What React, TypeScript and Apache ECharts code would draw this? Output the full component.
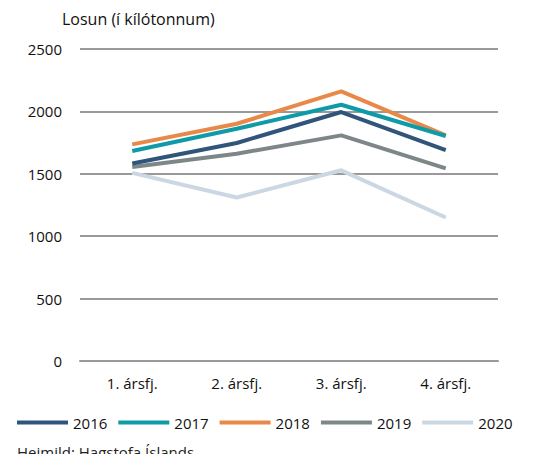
import React, { useEffect, useRef } from "react";
import * as echarts from "echarts";

const categories = ["1. ársfj.", "2. ársfj.", "3. ársfj.", "4. ársfj."];
const years = ["2016", "2017", "2018", "2019", "2020"];
const s2016 = [1582, 1747, 1995, 1690];
const s2017 = [1683, 1861, 2053, 1803];
const s2018 = [1736, 1901, 2160, 1808];
const s2019 = [1555, 1661, 1808, 1543];
const s2020 = [1507, 1310, 1528, 1150];
const colors = ["#30547a", "#0f9aa8", "#e8894a", "#7d8787", "#cbd7e3"];

const FONT = "'Open Sans', sans-serif";
const FS = 15;

export default function App() {
  const ref = useRef<HTMLDivElement>(null);
  useEffect(() => {
    const chart = echarts.init(ref.current!, undefined, { renderer: "svg" });
    const data = [s2016, s2017, s2018, s2019, s2020];
    chart.setOption({
      animation: false,
      textStyle: { fontFamily: FONT },
      title: [
        {
          text: "Losun (í kílótonnum)",
          left: 62,
          top: 11,
          padding: 0,
          textStyle: { fontSize: 16, fontWeight: "normal", color: "#111", fontFamily: FONT },
        },
        {
          text: "Heimild: Hagstofa Íslands",
          left: 17,
          top: 443,
          padding: 0,
          textStyle: {
            fontSize: 15,
            lineHeight: 17,
            fontWeight: "normal",
            color: "#222",
            fontFamily: FONT,
          },
        },
      ],
      legend: {
        left: 17,
        top: 415,
        padding: 0,
        itemWidth: 51,
        itemHeight: 4,
        itemGap: 11,
        icon: "rect",
        textStyle: { fontSize: FS, color: "#111", fontFamily: FONT, padding: [0, 0, 0, 0] },
        data: years,
      },
      grid: { left: 80, right: 39, top: 49, bottom: 101 },
      xAxis: {
        type: "category",
        data: categories,
        boundaryGap: true,
        axisLine: { show: true, lineStyle: { color: "#999", width: 2 } },
        axisTick: { show: false },
        axisLabel: { fontSize: FS, color: "#111", margin: 14, fontFamily: FONT },
      },
      yAxis: {
        type: "value",
        min: 0,
        max: 2500,
        interval: 500,
        axisLine: { show: false },
        axisTick: { show: false },
        axisLabel: {
          fontSize: FS,
          color: "#111",
          margin: 18,
          fontFamily: FONT,
          formatter: (v: number) => String(v),
        },
        splitLine: { lineStyle: { color: "#999", width: 2 } },
      },
      series: years.map((y, i) => ({
        name: y,
        type: "line",
        data: data[i],
        showSymbol: false,
        symbol: "none",
        itemStyle: { color: colors[i] },
        lineStyle: { color: colors[i], width: 4 },
        z: 10 - i,
      })),
    });
    return () => chart.dispose();
  }, []);
  return <div ref={ref} style={{ width: 537, height: 462, margin: -8 }} />;
}
